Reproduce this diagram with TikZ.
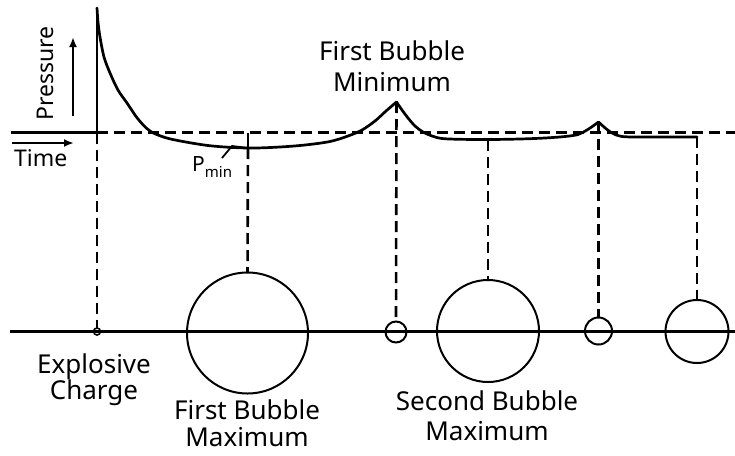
\documentclass[tikz,border=0pt]{standalone}
\usepackage{fontspec}
\setmainfont{Noto Sans}
\usetikzlibrary{arrows.meta}
\tikzset{
  solidline/.style={line width=2.4pt},
  dashline/.style={line width=2.6pt, dash pattern=on 11pt off 6pt},
  curveline/.style={line width=2.7pt, line join=round, line cap=round},
  bubble/.style={draw, circle, line width=2pt, inner sep=0pt, outer sep=0pt},
  lbl/.style={font=\fontsize{26}{30}\selectfont, inner sep=0pt, anchor=base},
  arr/.style={line width=2.4pt, -{Latex[length=10pt,width=8pt]}}
}
\begin{document}
\begin{tikzpicture}[x=1pt,y=-1pt]
\useasboundingbox (0,0) rectangle (735,455);
% axes
\coordinate (ax0) at (11,132.5);
\coordinate (orig) at (97,132.5);
\coordinate (axtop) at (97,8);
\coordinate (axend) at (735,132.5);
\draw[solidline] (ax0) -- (orig);
\draw[solidline] (orig) -- (axtop);
\draw[dashline] (orig) -- (axend);
% baseline
\coordinate (bl0) at (10,331.5);
\coordinate (bl1) at (735,331.5);
\draw[solidline] (bl0) -- (bl1);
% arrows and axis labels
\coordinate (ta0) at (12,143);
\coordinate (ta1) at (74,143);
\draw[arr] (ta0) -- (ta1);
\coordinate (pa0) at (73,116);
\coordinate (pa1) at (73,37);
\draw[arr] (pa0) -- (pa1);
\node[lbl, anchor=base west, font=\fontsize{23}{26}\selectfont] (time) at (14,166.5) {Time};
\node[lbl, anchor=base west, rotate=90, font=\fontsize{23}{26}\selectfont] (press) at (53.5,121) {Pressure};
% key points
\coordinate (pk1) at (396.5,102);
\coordinate (pk2) at (598.5,122);
\coordinate (pmin) at (248,148);
\coordinate (pminT) at (248,132.5);
\coordinate (sb) at (488,139.5);
\coordinate (fl) at (697,137);
% pressure curve
\draw[curveline] plot[smooth, tension=0.55] coordinates {(97,8) (98,22) (100,37) (104,57) (110,73) (118,90) (127,103) (138,119) (150,131) (165,137.5) (183,141.5) (208,145.5) (233,147.5) (255,148) (280,147) (305,145) (330,141.5) (348,136) (362,130) (375,121) (386,111) (396.5,102)};
\draw[curveline] plot[smooth, tension=0.55] coordinates {(396.5,102) (402,110) (408,118) (415,126) (423,132) (432,136) (442,138.5) (460,139.3) (490,139.5) (520,139) (545,138) (565,136.5) (578,134.5) (587,130) (593,126) (598.5,122)};
\draw[curveline] plot[smooth, tension=0.55] coordinates {(598.5,122) (604,127) (609,131) (615,134.5) (622,136.5) (632,137)} -- (fl);
% bubbles
\node[bubble, minimum size=7pt, line width=1.6pt] (ch) at (97,331.5) {};
\node[bubble, minimum size=121pt] (b1) at (247.5,333) {};
\node[bubble, minimum size=21pt] (m1) at (396,332) {};
\node[bubble, minimum size=102pt] (b2) at (488,331) {};
\node[bubble, minimum size=27pt] (m2) at (598.5,331) {};
\node[bubble, minimum size=63pt] (b3) at (697,331.5) {};
% verticals
\draw[dashline] (orig) -- (ch.north);
\draw[solidline] (pminT) -- (pmin);
\draw[dashline] (pmin) -- (b1.north);
\draw[dashline] (pk1) -- (m1.north);
\draw[dashline] (sb) -- (b2.north);
\draw[dashline] (pk2) -- (m2.north);
\draw[dashline] (fl) -- (b3.north);
% P_min
\node[anchor=base west, inner sep=0pt, font=\fontsize{21}{24}\selectfont] (pminlbl) at (192,171.5) {P\raisebox{-6pt}{\fontsize{15}{16}\selectfont min}};
\coordinate (pl0) at (222,158);
\coordinate (pl1) at (232,146);
\draw[line width=1.8pt] (pl0) -- (pl1) -- (pmin);
% labels
\node[lbl] (fbminA) at (392,60) {First Bubble};
\node[lbl] (fbminB) at (392,91.5) {Minimum};
\node[lbl] (explA) at (94,373) {Explosive};
\node[lbl] (explB) at (94,399) {Charge};
\node[lbl] (fbmaxA) at (247,419) {First Bubble};
\node[lbl] (fbmaxB) at (247,446.5) {Maximum};
\node[lbl] (sbmaxA) at (487,410) {Second Bubble};
\node[lbl] (sbmaxB) at (487,440) {Maximum};
\end{tikzpicture}
\end{document}
